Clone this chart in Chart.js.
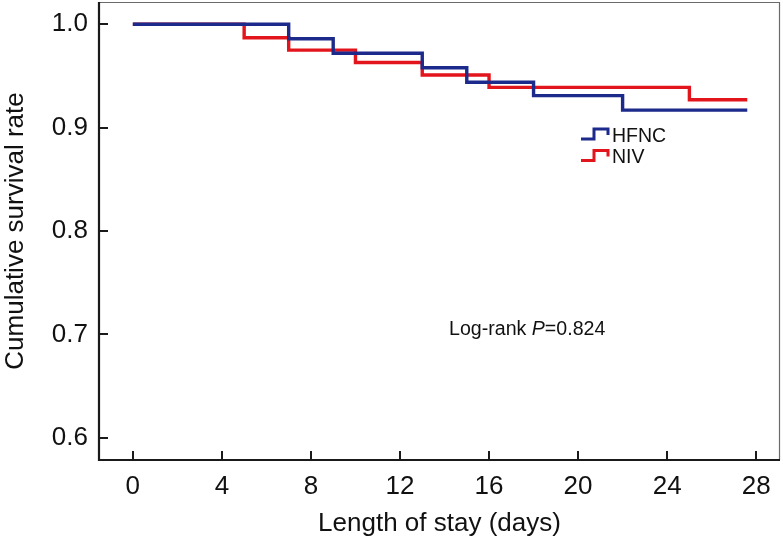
<!DOCTYPE html>
<html>
<head>
<meta charset="utf-8">
<script src="https://cdn.jsdelivr.net/npm/chart.js@4.4.1/dist/chart.umd.min.js"></script>
<style>
  html, body { margin: 0; padding: 0; background: #ffffff; }
  #wrap { width: 783px; height: 539px; position: relative; }
</style>
</head>
<body>
<div id="wrap"><canvas id="c" width="783" height="539"></canvas></div>
<script>
// ---- Data ----
const seriesNames = ["HFNC", "NIV"];
const hfncDays = [0, 7, 9, 13, 15, 18, 22, 27.6];
const hfncSurvival = [1.0, 0.986, 0.972, 0.958, 0.944, 0.931, 0.917, 0.917];
const nivDays = [0, 5, 7, 10, 13, 16, 25, 27.6];
const nivSurvival = [1.0, 0.987, 0.975, 0.963, 0.951, 0.939, 0.927, 0.927];
const xTickValues = [0, 4, 8, 12, 16, 20, 24, 28];
const yTickValues = [0.6, 0.7, 0.8, 0.9, 1.0];
const annotationText = ["Log-rank ", "P", "=0.824"];

const FONT = "'Liberation Sans', Arial, Helvetica, sans-serif";
const BLUE = "#1c2a8c";
const RED = "#e3151c";

function toPoints(xs, ys) { return xs.map((x, i) => ({ x: x, y: ys[i] })); }

// frame, inward ticks, legend and annotation
const decorPlugin = {
  id: "decor",
  afterDraw(chart) {
    const ctx = chart.ctx;
    const a = chart.chartArea;
    const xs = chart.scales.x, ys = chart.scales.y;
    ctx.save();
    // thin top/right frame
    ctx.strokeStyle = "#6a6a6a";
    ctx.lineWidth = 1.2;
    ctx.beginPath();
    ctx.moveTo(a.left, a.top + 0.5);
    ctx.lineTo(a.right - 0.5, a.top + 0.5);
    ctx.lineTo(a.right - 0.5, a.bottom);
    ctx.stroke();
    // thick left/bottom axes
    ctx.strokeStyle = "#1a1a1a";
    ctx.lineWidth = 2.2;
    ctx.beginPath();
    ctx.moveTo(a.left, a.top);
    ctx.lineTo(a.left, a.bottom);
    ctx.lineTo(a.right, a.bottom);
    ctx.stroke();
    // inward ticks
    ctx.lineWidth = 2;
    ctx.beginPath();
    xs.ticks.forEach(t => {
      const px = Math.round(xs.getPixelForValue(t.value));
      ctx.moveTo(px, a.bottom);
      ctx.lineTo(px, a.bottom - 9);
    });
    ys.ticks.forEach(t => {
      const py = Math.round(ys.getPixelForValue(t.value));
      ctx.moveTo(a.left, py);
      ctx.lineTo(a.left + 9, py);
    });
    ctx.stroke();

    // legend (inside plot)
    const lx = 581, stepX = 594, endX = 608;
    chart.data.datasets.forEach((ds, i) => {
      const base = 139 + i * 21.5;
      const high = base - 10;
      ctx.strokeStyle = ds.borderColor;
      ctx.lineWidth = 3;
      ctx.lineJoin = "miter";
      ctx.beginPath();
      ctx.moveTo(lx, base);
      ctx.lineTo(stepX, base);
      ctx.lineTo(stepX, high);
      ctx.lineTo(endX, high);
      ctx.lineTo(endX, high + 6);
      ctx.stroke();
      ctx.fillStyle = "#111";
      ctx.font = "19.5px " + FONT;
      ctx.textBaseline = "alphabetic";
      ctx.textAlign = "left";
      ctx.fillText(ds.label, 612, base + 2.5);
    });

    // annotation
    let x = 449;
    const y = 335;
    ctx.fillStyle = "#111";
    ctx.textBaseline = "alphabetic";
    ctx.textAlign = "left";
    annotationText.forEach((s, i) => {
      ctx.font = (i === 1 ? "italic " : "") + "19.6px " + FONT;
      ctx.fillText(s, x, y);
      x += ctx.measureText(s).width;
    });
    ctx.restore();
  }
};

new Chart(document.getElementById("c"), {
  type: "line",
  data: {
    datasets: [
      {
        label: seriesNames[0],
        data: toPoints(hfncDays, hfncSurvival),
        borderColor: BLUE,
        borderWidth: 3.4,
        stepped: "before",
        pointRadius: 0,
        fill: false
      },
      {
        label: seriesNames[1],
        data: toPoints(nivDays, nivSurvival),
        borderColor: RED,
        borderWidth: 3.4,
        stepped: "before",
        pointRadius: 0,
        fill: false
      }
    ]
  },
  options: {
    responsive: false,
    animation: false,
    events: [],
    layout: { padding: { left: 0, top: 2, right: 3, bottom: 0 } },
    plugins: {
      legend: { display: false },
      tooltip: { enabled: false },
      title: { display: false }
    },
    scales: {
      x: {
        type: "linear",
        min: -1.52,
        max: 29.07,
        grid: { display: false, drawTicks: false },
        border: { display: false },
        afterBuildTicks: s => { s.ticks = xTickValues.map(v => ({ value: v })); },
        afterFit: s => { s.height = 79; s.paddingLeft = 0; s.paddingRight = 0; },
        ticks: {
          font: { family: FONT, size: 26 },
          color: "#111",
          padding: 11,
          maxRotation: 0,
          autoSkip: false,
          callback: v => String(v)
        },
        title: {
          display: true,
          text: "Length of stay (days)",
          font: { family: FONT, size: 26 },
          color: "#111",
          padding: { top: 0, bottom: 0 }
        }
      },
      y: {
        type: "linear",
        min: 0.5784,
        max: 1.0216,
        grid: { display: false, drawTicks: false },
        border: { display: false },
        afterBuildTicks: s => { s.ticks = yTickValues.map(v => ({ value: v })); },
        afterFit: s => { s.width = 99; s.paddingTop = 0; s.paddingBottom = 0; },
        ticks: {
          font: { family: FONT, size: 26 },
          color: "#111",
          padding: 11,
          autoSkip: false,
          callback: v => Number(v).toFixed(1)
        },
        title: {
          display: true,
          text: "Cumulative survival rate",
          font: { family: FONT, size: 26 },
          color: "#111",
          padding: { top: 0, bottom: 0 }
        }
      }
    }
  },
  plugins: [decorPlugin]
});
</script>
</body>
</html>
